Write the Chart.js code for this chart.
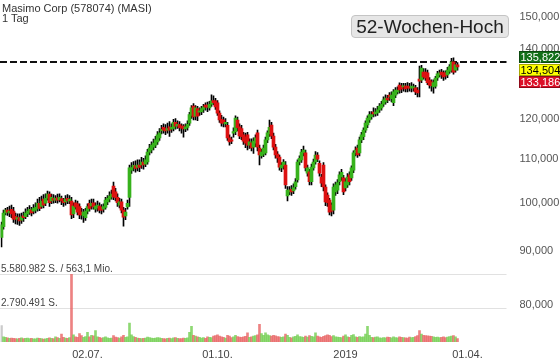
<!DOCTYPE html>
<html><head><meta charset="utf-8">
<script src="https://cdn.jsdelivr.net/npm/chart.js@4/dist/chart.umd.min.js"></script>
<style>
html,body{margin:0;padding:0;background:#fff;}
#wrap{position:relative;width:560px;height:363px;overflow:hidden;}
#c{position:absolute;left:0;top:0;}
#title{position:absolute;left:2px;top:2.5px;font:11px "Liberation Sans",Arial,sans-serif;line-height:10px;color:#333;white-space:nowrap;}
#hoch{position:absolute;left:351px;top:15px;width:158px;height:23px;box-sizing:border-box;border:1px solid #c4c4c4;border-radius:4px;background:#e6e6e6;font:19px "Liberation Sans",Arial,sans-serif;color:#222;line-height:21px;text-align:center;white-space:nowrap;}
</style></head>
<body><div id="wrap"><canvas id="c" width="560" height="363"></canvas>
<div id="title">Masimo Corp (578074) (MASI)<br>1 Tag</div>
<div id="hoch">52-Wochen-Hoch</div></div>
<script>
// ---- data (daily candles) ----
const opens = [92.7,94.9,97.8,98.4,97.8,98.6,98.2,97.1,96.5,96.8,96.3,97.2,97.0,97.6,98.0,98.4,98.2,98.4,98.8,99.9,99.2,100.8,99.9,101.0,101.9,100.4,101.0,100.6,101.1,100.7,100.9,100.4,100.2,101.0,100.4,100.4,97.6,100.0,99.8,99.2,98.0,97.2,96.8,98.2,99.9,99.3,100.0,98.6,98.9,99.3,99.0,98.6,99.0,100.2,100.8,101.3,103.7,102.4,101.2,99.5,100.2,98.4,97.2,99.1,101.2,107.4,108.0,108.4,108.0,108.6,108.6,109.3,108.8,109.3,111.7,112.2,112.9,113.4,114.2,115.2,117.0,117.9,117.6,117.2,118.0,117.4,117.6,119.2,118.2,118.6,118.2,118.2,117.5,117.9,119.0,121.0,123.5,120.8,122.8,121.9,122.0,122.6,123.8,123.8,123.0,124.0,125.0,124.9,124.4,121.6,120.0,119.8,118.8,118.4,115.2,114.7,116.4,116.8,119.8,118.0,117.6,116.0,115.5,116.0,113.4,114.0,112.9,113.9,116.5,112.7,110.8,111.2,111.5,114.7,116.2,118.5,115.7,112.9,111.2,110.5,107.9,108.4,108.6,101.5,102.4,103.0,102.6,103.6,105.1,109.3,109.8,111.5,111.5,106.7,107.0,104.7,107.9,109.3,111.0,109.0,105.8,108.6,103.5,101.7,100.6,99.5,98.4,102.4,102.8,104.7,105.8,105.6,103.3,104.0,106.3,105.6,107.4,111.5,112.7,111.5,114.7,115.5,117.2,118.5,119.8,120.7,121.9,121.4,121.7,122.5,123.0,124.0,124.6,125.7,126.5,125.5,124.4,126.5,127.4,129.3,129.0,128.8,129.0,129.0,128.8,128.4,128.5,128.5,127.9,131.0,130.7,133.0,133.0,132.8,130.7,130.2,128.8,129.0,131.3,132.2,133.0,132.8,132.8,132.2,133.2,133.6,136.0,133.6,135.1];
const highs = [95.9,98.4,98.8,99.0,99.3,99.5,99.0,97.8,97.6,97.6,97.8,98.0,98.7,99.0,99.4,99.0,99.6,100.0,100.8,101.2,101.5,101.8,102.0,102.6,102.4,101.9,101.8,101.6,101.9,102.0,101.5,101.0,101.6,101.8,101.6,101.2,100.0,100.6,100.4,99.8,98.8,98.6,98.8,99.8,100.6,100.8,100.8,100.0,100.4,100.0,99.6,99.8,101.2,101.6,102.4,102.8,104.6,103.2,102.0,101.0,100.8,99.0,98.8,100.6,108.6,109.2,109.4,109.6,109.8,109.8,110.4,110.2,110.8,112.4,113.6,114.2,114.9,115.6,116.8,117.6,118.4,118.8,118.6,119.0,119.4,118.8,120.0,120.2,119.6,119.4,118.8,118.6,118.8,119.6,121.8,123.6,124.2,123.6,123.4,123.0,123.4,124.0,124.4,124.6,124.8,126.6,126.3,125.6,125.0,122.2,121.0,120.6,120.2,119.2,116.0,115.4,117.8,120.9,120.6,118.8,118.4,116.6,116.4,116.6,115.0,115.0,115.2,116.0,117.2,113.4,112.4,113.4,115.4,117.0,119.8,119.2,116.4,113.6,111.8,111.0,109.2,109.9,109.4,103.6,103.6,103.8,104.2,105.4,109.8,110.8,112.4,113.2,112.2,108.6,107.6,108.8,110.0,111.8,111.6,109.6,106.4,109.2,104.0,102.2,101.0,100.0,104.2,104.6,105.2,107.0,107.6,106.2,105.4,106.6,107.0,108.4,112.0,113.0,113.4,115.4,116.6,117.8,119.6,120.9,122.0,122.0,123.0,122.8,123.4,124.2,124.8,126.0,126.6,126.4,127.2,127.4,128.0,128.6,128.8,129.9,129.8,129.8,129.8,130.0,129.8,130.0,129.6,129.2,128.6,134.8,135.0,134.0,134.0,133.6,131.4,130.8,130.8,131.8,133.2,133.6,133.8,133.4,133.4,134.4,135.2,137.1,137.2,135.6,135.8];
const lows = [90.8,94.4,97.4,97.3,97.0,96.8,95.8,95.5,95.4,95.2,95.6,96.0,96.6,97.0,97.5,97.2,97.6,97.8,98.2,98.3,98.8,98.9,99.4,100.6,99.2,99.8,99.9,100.0,99.9,100.2,99.6,99.2,99.5,99.8,99.8,96.6,96.8,98.6,97.4,96.6,96.5,95.8,96.2,97.6,98.2,98.6,98.6,98.0,98.2,97.8,97.6,98.0,98.6,99.6,100.2,100.8,100.7,100.4,99.2,98.9,97.8,95.0,96.4,98.6,99.2,106.6,107.2,106.9,107.2,107.0,107.8,107.6,108.2,108.8,111.0,111.5,112.2,112.8,113.6,114.6,116.2,116.4,116.0,116.4,115.6,116.6,117.0,117.4,117.6,117.0,116.4,115.4,116.8,117.2,118.4,120.2,119.8,119.8,119.6,121.0,121.2,121.8,122.4,122.0,122.4,123.4,123.8,122.6,121.0,119.2,118.2,118.0,118.0,114.6,113.4,113.8,115.4,116.0,117.0,115.0,114.8,113.6,112.8,112.2,112.6,112.0,111.4,113.0,112.0,108.6,110.2,110.6,111.0,114.0,115.6,115.0,112.2,110.2,109.2,107.4,107.0,107.6,103.2,100.4,101.8,101.6,102.0,103.0,104.6,108.6,109.2,110.8,107.2,106.0,104.0,104.0,107.4,108.8,109.4,106.0,103.6,102.6,99.4,99.2,97.4,97.2,97.6,101.6,102.0,104.0,105.0,101.8,102.6,103.4,104.0,105.0,106.8,110.8,110.4,110.8,114.0,114.8,116.6,117.8,119.2,120.0,120.6,120.8,121.0,121.8,122.4,123.4,124.0,124.4,125.0,124.6,123.6,125.8,126.8,127.0,127.2,127.6,127.4,127.4,127.6,127.4,127.6,126.6,126.0,126.0,130.0,131.0,130.6,129.4,128.4,127.6,127.0,128.4,130.6,131.6,131.2,130.6,131.0,131.4,132.6,133.0,132.4,133.0,133.6];
const closes = [95.3,97.8,98.4,98.0,98.2,97.6,96.5,96.5,96.8,96.1,97.0,96.8,97.8,98.2,98.6,97.8,98.8,99.0,99.9,98.8,100.4,99.5,101.0,101.9,100.0,101.2,100.6,101.0,100.6,101.2,100.4,100.0,100.8,100.4,100.8,97.4,99.3,99.1,98.0,97.4,97.4,98.0,98.2,99.2,98.8,99.9,99.1,99.3,99.5,98.4,98.4,99.2,100.6,101.0,101.5,101.9,101.3,101.1,100.0,100.2,98.4,96.9,98.0,99.9,107.9,108.0,108.5,107.8,108.6,108.0,109.3,108.6,109.8,111.7,112.7,113.4,113.9,114.7,116.0,116.5,117.4,117.2,117.0,117.6,117.2,117.9,119.2,118.2,118.7,117.8,117.7,117.5,118.0,118.7,121.2,123.0,120.6,123.0,120.8,122.2,122.8,123.3,123.2,123.2,124.0,124.9,124.4,123.3,121.6,119.8,119.0,119.0,119.2,115.2,114.2,114.4,116.8,120.3,117.8,115.7,115.5,114.4,113.9,113.4,114.2,112.7,114.4,115.2,112.9,111.0,111.7,112.7,114.7,116.5,117.9,115.7,112.9,111.0,110.3,108.1,108.6,109.3,104.0,102.8,102.8,102.4,103.4,104.7,109.3,110.2,111.7,112.2,107.9,107.9,104.7,108.1,109.3,111.0,110.0,106.7,104.4,103.5,100.2,100.0,98.0,98.2,103.5,104.0,104.5,106.3,106.9,102.4,104.7,105.8,104.7,107.9,111.5,112.2,111.0,114.7,116.0,117.2,119.0,120.3,121.2,121.2,121.4,121.9,122.5,123.5,124.0,125.2,125.7,125.2,126.0,126.5,127.4,127.9,127.9,127.9,128.2,129.1,128.2,128.5,128.4,129.0,128.8,127.4,127.1,130.4,134.2,131.6,131.3,130.0,129.3,129.1,130.0,131.3,132.5,132.8,132.2,131.6,131.9,133.6,134.6,136.0,133.0,135.1,134.5];
// volume in thousands of shares
const volumesK = [1350,420,380,350,300,330,310,280,260,300,350,290,310,330,280,300,260,270,320,300,290,240,260,300,350,310,280,420,360,300,650,380,330,300,360,5580.982,600,420,380,700,520,380,450,800,420,560,500,950,420,380,330,360,420,350,300,330,520,400,360,330,420,560,380,420,1550,600,450,380,330,300,290,310,330,400,360,330,300,320,360,340,300,280,260,300,320,280,350,360,310,290,280,320,300,350,800,1300,560,480,420,380,330,360,310,420,380,360,480,520,600,480,420,380,330,560,480,360,420,560,450,400,380,420,460,750,380,420,480,520,600,1450,700,560,750,600,520,480,560,500,450,420,380,420,650,560,380,350,420,460,600,450,420,380,480,400,520,460,420,750,480,420,380,460,520,600,560,450,520,420,400,380,360,480,600,420,380,550,620,420,380,450,400,420,650,1300,560,380,360,400,420,350,330,360,340,400,380,350,420,360,340,420,380,360,340,320,400,360,380,450,520,950,650,560,520,500,480,460,420,380,400,360,380,420,360,400,450,480,520,420,280];
const tickIdx = [43, 108, 172, 233];
const tickLabels = ['02.07.', '01.10.', '2019', '01.04.'];
const priceTicks = [80, 90, 100, 110, 120, 130, 140, 150];
const high52 = 135.822;
const quoteLevels = [135.822, 134.504, 133.186];
const volLines = [5580.982, 2790.491];
const volLabels = ['5.580.982 S. / 563,1 Mio.', '2.790.491 S.'];

// ---- styles ----
const UP = '#37b21c', DOWN = '#dc1111', WICK = '#000000';
const VUP = 'rgba(110,205,75,0.78)', VDOWN = 'rgba(232,95,95,0.78)', VFLAT = 'rgba(190,190,190,0.8)';
const FONT = '"Liberation Sans", Arial, sans-serif';
Chart.defaults.font.family = FONT;

const idx = closes.map((_, i) => i);
const isUp = i => closes[i] >= opens[i];
const fmt = v => v.toFixed(3).replace('.', ',');
const noPad = s => { s.paddingTop = 0; s.paddingBottom = 0; s.paddingLeft = 0; s.paddingRight = 0; };

const overlay = {
  id: 'overlay',
  beforeDatasetsDraw(chart) {
    const {ctx, chartArea: a, scales} = chart;
    ctx.save();
    ctx.strokeStyle = '#e1e1e1'; ctx.lineWidth = 1;
    volLines.forEach(v => {
      const py = Math.round(scales.yv.getPixelForValue(v)) + 0.5;
      ctx.beginPath(); ctx.moveTo(0, py); ctx.lineTo(a.right, py); ctx.stroke();
    });
    ctx.fillStyle = '#444'; ctx.font = '10px ' + FONT; ctx.textBaseline = 'alphabetic'; ctx.textAlign = 'left';
    volLabels.forEach((t, k) => ctx.fillText(t, 1, Math.round(scales.yv.getPixelForValue(volLines[k])) - 2));
    const hy = Math.round(scales.y.getPixelForValue(high52));
    ctx.setLineDash([7, 3]); ctx.lineWidth = 2; ctx.strokeStyle = '#111';
    ctx.beginPath(); ctx.moveTo(0, hy); ctx.lineTo(a.right, hy); ctx.stroke();
    ctx.restore();
  },
  afterDraw(chart) {
    const {ctx, chartArea: a, scales} = chart;
    const styles = [['#13701a', '#fff'], ['#ffff00', '#000'], ['#dc1028', '#fff']];
    const h = 12;
    const yc = scales.y.getPixelForValue(quoteLevels[1]) + 3;
    ctx.save();
    ctx.font = '11px ' + FONT; ctx.textBaseline = 'middle'; ctx.textAlign = 'left';
    quoteLevels.forEach((v, k) => {
      const cy = Math.round(yc + (k - 1) * (h + 0.5));
      const x0 = Math.round(a.right) + 12;
      ctx.fillStyle = styles[k][0];
      ctx.fillRect(x0, cy - h / 2, 560 - x0, h);
      ctx.strokeStyle = 'rgba(0,0,0,0.35)'; ctx.lineWidth = 1;
      ctx.strokeRect(x0 + 0.5, cy - h / 2 + 0.5, 560 - x0 - 1, h - 1);
      ctx.fillStyle = styles[k][1];
      ctx.fillText(fmt(v), x0 + 1.5, cy + 0.5);
    });
    ctx.restore();
  }
};

new Chart(document.getElementById('c'), {
  type: 'bar',
  data: {
    datasets: [
      { label: 'body', order: 0, grouped: false, barThickness: 3, minBarLength: 1, borderWidth: 0,
        data: idx.map(i => ({x: i, y: [opens[i], closes[i]]})),
        backgroundColor: c => isUp(c.dataIndex) ? UP : DOWN, yAxisID: 'y' },
      { label: 'wick', order: 1, grouped: false, barThickness: 1, borderWidth: 0,
        data: idx.map(i => ({x: i, y: [lows[i], highs[i]]})),
        backgroundColor: WICK, yAxisID: 'y' },
      { label: 'vol', order: 2, grouped: false, barThickness: 2, borderWidth: 0,
        data: idx.map(i => ({x: i, y: volumesK[i]})),
        backgroundColor: c => c.dataIndex === 0 || closes[c.dataIndex] === opens[c.dataIndex] ? VFLAT : (isUp(c.dataIndex) ? VUP : VDOWN),
        yAxisID: 'yv' }
    ]
  },
  options: {
    responsive: false, animation: false, events: [],
    layout: { padding: { left: 0.5, right: 0, top: 0, bottom: 0 } },
    plugins: { legend: { display: false }, tooltip: { enabled: false } },
    scales: {
      x: {
        type: 'linear', min: -0.5, max: 252.5, bounds: 'data', offset: false,
        grid: { display: false, drawTicks: false, tickLength: 0, offset: false }, border: { display: false },
        afterBuildTicks: s => { s.ticks = tickIdx.map(v => ({ value: v })); },
        afterFit: s => { s.height = 21; noPad(s); },
        ticks: { autoSkip: false, maxRotation: 0, padding: 6, color: '#444', font: { size: 11 },
          callback: (v, i) => tickLabels[i] }
      },
      y: {
        type: 'logarithmic', position: 'right', min: 73.8, max: 155.67, offset: false,
        grid: { display: false, drawTicks: false, tickLength: 0 }, border: { display: false },
        afterBuildTicks: s => { s.ticks = priceTicks.map(v => ({ value: v })); },
        afterFit: s => { s.width = 53.5; noPad(s); },
        ticks: { autoSkip: false, padding: 13, color: '#555', font: { size: 11 },
          callback: v => fmt(v) }
      },
      yv: { type: 'linear', display: false, min: 0, max: 28200, position: 'left', offset: false }
    }
  },
  plugins: [overlay]
});
</script>
</body></html>
